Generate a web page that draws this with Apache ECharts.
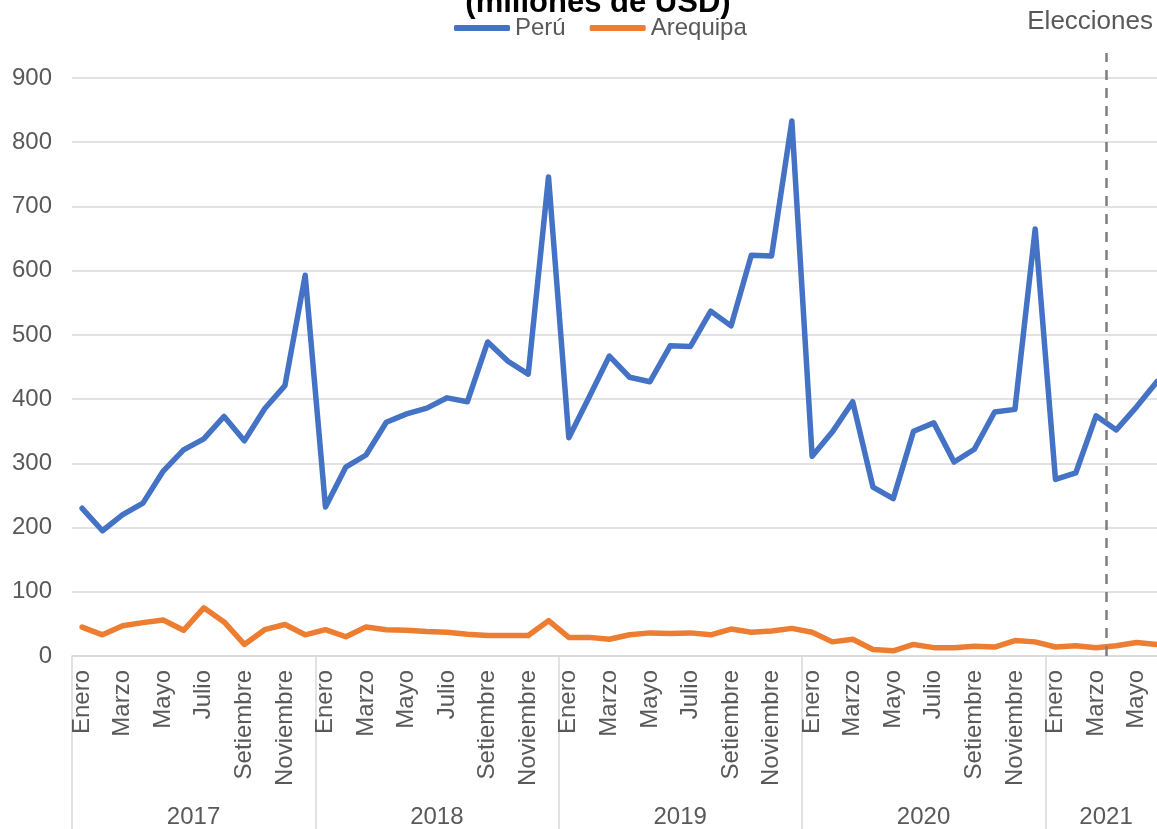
<!DOCTYPE html>
<html>
<head>
<meta charset="utf-8">
<title>Perú y Arequipa (millones de USD)</title>
<script src="https://cdn.jsdelivr.net/npm/echarts@6/dist/echarts.min.js"></script>
<style>
  html, body { margin: 0; padding: 0; background: #ffffff; }
  #chart { width: 1157px; height: 829px; }
</style>
</head>
<body>
<div id="chart"></div>
<script>
// data
const years = ['2017', '2018', '2019', '2020', '2021']
const monthsPerYear = [12, 12, 12, 12, 6]
const monthNames = ['Enero', 'Febrero', 'Marzo', 'Abril', 'Mayo', 'Junio', 'Julio', 'Agosto', 'Setiembre', 'Octubre', 'Noviembre', 'Diciembre']

const peru = [
  230, 195, 220, 238, 288, 321, 338, 373, 335, 385, 421, 593,
  232, 294, 313, 364, 377, 386, 402, 396, 489, 459, 439, 746,
  340, 403, 467, 434, 427, 483, 482, 537, 514, 624, 623, 833,
  311, 349, 396, 263, 245, 350, 363, 302, 322, 380, 384, 665,
  275, 285, 374, 352, 388, 427
]
const arequipa = [
  45, 33, 47, 52, 56, 40, 75, 53, 18, 41, 49, 33,
  41, 30, 45, 41, 40, 38, 37, 34, 32, 32, 32, 55,
  29, 29, 26, 33, 36, 35, 36, 33, 42, 37, 39, 43,
  37, 22, 26, 10, 8, 18, 13, 13, 15, 14, 24, 22,
  14, 16, 13, 16, 21, 18
]
const yMin = 0
const yMax = 900
const yStep = 100
// month index where the elections mark sits (between Marzo and Abril 2021)
const eleccionesAt = 51
// the dashed mark runs a bit above the top gridline
const eleccionesTop = 939

const FONT = '"Liberation Sans", Arial, sans-serif'
const GRAY = '#595959'

const cats = []
const yearStart = []
years.forEach((y, i) => {
  yearStart.push(cats.length)
  for (let m = 0; m < monthsPerYear[i]; m++) cats.push(y + '-' + m)
})
const yearLabelAt = {}
years.forEach((y, i) => {
  yearLabelAt[yearStart[i] + monthsPerYear[i] / 2 - 1] = y
})

const myChart = echarts.init(document.getElementById('chart'))

const option = {
  animation: false,
  backgroundColor: '#ffffff',
  textStyle: { fontFamily: FONT },
  title: [
    {
      text: '(millones de USD)',
      left: 593,
      top: -17,
      textAlign: 'center',
      textStyle: { fontFamily: FONT, fontSize: 31, fontWeight: 'bold', color: '#000000' }
    },
    {
      text: 'Elecciones',
      right: -1,
      top: 4,
      textStyle: { fontFamily: FONT, fontSize: 26, fontWeight: 'normal', color: GRAY }
    }
  ],
  legend: {
    data: ['Perú', 'Arequipa'],
    left: 454,
    top: 16,
    padding: 0,
    itemGap: 24,
    itemWidth: 56,
    itemHeight: 6,
    icon: 'roundRect',
    textStyle: { fontFamily: FONT, fontSize: 24, color: GRAY }
  },
  grid: {
    left: 72,
    right: -10,
    top: 78,
    bottom: 173,
    containLabel: false,
    outerBoundsMode: 'none'
  },
  xAxis: [
    {
      type: 'category',
      data: cats,
      boundaryGap: true,
      axisLine: { show: true, lineStyle: { color: '#d9d9d9', width: 1.5 } },
      axisTick: { show: false },
      axisLabel: {
        interval: 1,
        rotate: 90,
        margin: 14,
        fontFamily: FONT,
        fontSize: 24,
        color: GRAY,
        formatter: (v) => monthNames[+v.split('-')[1]]
      },
      splitLine: { show: false }
    },
    {
      type: 'category',
      data: cats,
      position: 'bottom',
      boundaryGap: true,
      axisLine: { show: false },
      axisTick: {
        show: true,
        length: 173,
        interval: (idx) => yearStart.indexOf(idx) >= 0,
        lineStyle: { color: '#d9d9d9', width: 1.5 }
      },
      axisLabel: {
        interval: (idx) => yearLabelAt[idx] !== undefined,
        margin: 149,
        fontFamily: FONT,
        fontSize: 24,
        color: GRAY,
        align: 'center',
        padding: [0, 0, 0, 20],
        formatter: (v) => v.split('-')[0]
      },
      splitLine: { show: false }
    },
    {
      type: 'value',
      show: false,
      min: 0,
      max: cats.length
    }
  ],
  yAxis: {
    type: 'value',
    min: yMin,
    max: yMax,
    interval: yStep,
    axisLine: { show: false },
    axisTick: { show: false },
    axisLabel: { margin: 20, fontFamily: FONT, fontSize: 24, color: GRAY },
    splitLine: { lineStyle: { color: '#d9d9d9', width: 1.5 } }
  },
  series: [
    {
      name: 'Perú',
      type: 'line',
      xAxisIndex: 0,
      data: peru,
      symbol: 'none',
      z: 3,
      itemStyle: { color: '#4472C4' },
      lineStyle: { color: '#4472C4', width: 5.5, cap: 'round', join: 'round' }
    },
    {
      name: 'Arequipa',
      type: 'line',
      xAxisIndex: 0,
      data: arequipa,
      symbol: 'none',
      z: 3,
      itemStyle: { color: '#ED7D31' },
      lineStyle: { color: '#ED7D31', width: 5.5, cap: 'round', join: 'round' }
    },
    {
      name: 'Elecciones',
      type: 'line',
      xAxisIndex: 2,
      data: [[eleccionesAt, 0]],
      symbol: 'none',
      silent: true,
      lineStyle: { width: 0 },
      z: 4
    }
  ]
}

myChart.setOption(option)

// the top end sits above the grid, so take its pixel from the y axis scale
const topPx = myChart.convertToPixel({ yAxisIndex: 0 }, eleccionesTop)
myChart.setOption({
  series: [{}, {}, {
    markLine: {
      silent: true,
      symbol: ['none', 'none'],
      label: { show: false },
      lineStyle: { color: '#7f7f7f', width: 2.5, type: [10, 8] },
      data: [
        [{ coord: [eleccionesAt, yMin] }, { coord: [eleccionesAt, yMin], y: topPx }]
      ]
    }
  }]
})

window.onresize = myChart.resize
</script>
</body>
</html>
